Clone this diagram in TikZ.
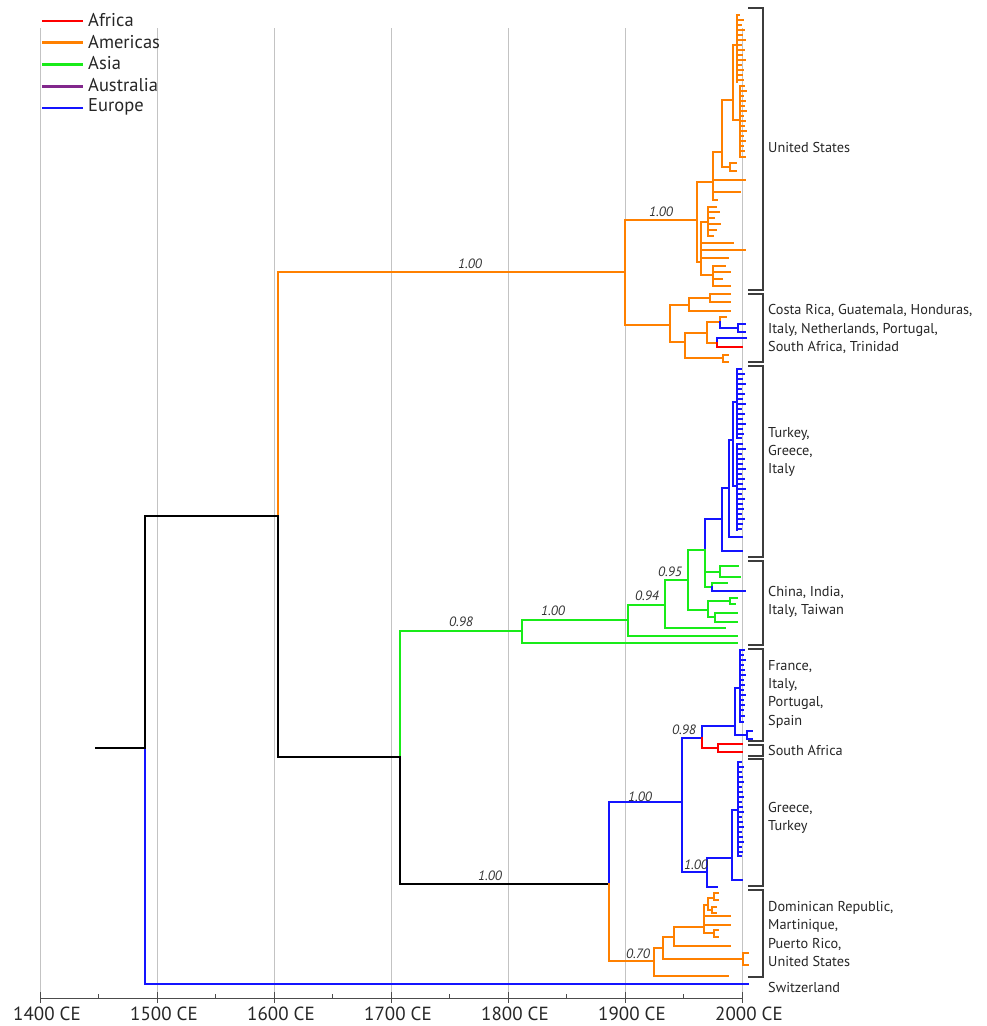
\documentclass[tikz,border=0pt]{standalone}
\usepackage{fontspec}
\setmainfont{PT Sans}
\usepackage{tikz}
\definecolor{afr}{RGB}{255,0,0}
\definecolor{ame}{RGB}{255,128,0}
\definecolor{asi}{RGB}{25,235,25}
\definecolor{aus}{RGB}{130,40,140}
\definecolor{eur}{RGB}{20,20,255}
\definecolor{grd}{RGB}{195,195,195}
\definecolor{brc}{RGB}{60,60,60}

\begin{document}
\begin{tikzpicture}[x=1pt,y=-1pt,
  br/.style={line width=2.8pt,line cap=rect},
  tp/.style={line width=2.2pt,line cap=rect},
  blk/.style={br,draw=black},
  af/.style={br,draw=afr},
  am/.style={br,draw=ame},
  as/.style={br,draw=asi},
  eu/.style={br,draw=eur},
  amt/.style={tp,draw=ame},
  eut/.style={tp,draw=eur},
  pp/.style={font=\fontsize{13.5}{15}\selectfont\itshape,text=black!80,inner sep=0pt},
  lab/.style={anchor=west,align=left,font=\fontsize{14.3}{18.3}\selectfont,text=black!85,inner sep=0pt},
  brk/.style={line width=1.8pt,draw=brc},
  yr/.style={font=\fontsize{19}{21}\selectfont,text=black!85,inner sep=0pt}]
  \useasboundingbox (0,0) rectangle (987,1026);

  \foreach \x in {40,157,274,391,508,625,742}
    \draw[grd,line width=1pt] (\x,28) -- (\x,998);
  \draw[black!70,line width=1pt] (40,998) -- (742,998);
  \foreach \x/\yy [count=\i] in {40/1400,157/1500,274/1600,391/1700,508/1800,625/1900,742/2000} {
    \draw[black!70,line width=1pt] (\x,992) -- (\x,1003);
    \node[yr] (yr\i) at (\x+7,1014) {\yy\ CE};
  }
  \foreach \x in {98.5,215.5,332.5,449.5,566.5,683.5}
    \draw[black!70,line width=1pt] (\x,994) -- (\x,998);

  \foreach \c/\t [count=\i] in {afr/Africa,ame/Americas,asi/Asia,aus/Australia,eur/Europe} {
    \draw[line width=2.8pt,\c] (42,{21+21.75*(\i-1)}) -- (83,{21+21.75*(\i-1)});
    \node[anchor=west,inner sep=0pt,font=\fontsize{18.5}{20}\selectfont,text=black!85] (lg\i) at (88,{20+21.75*(\i-1)}) {\t};
  }

  \coordinate (RT) at (96,748);
  \coordinate (R0) at (145,748);
  \coordinate (N1) at (278,516);
  \coordinate (SW) at (748,984);
  \coordinate (AM) at (625,272);
  \coordinate (N2) at (400,757);
  \coordinate (AS) at (522,631);
  \coordinate (N3) at (609,884);
  \coordinate (EU) at (682,802);
  \coordinate (DR) at (654,961);

  \coordinate (US) at (697,220);
  \coordinate (U1) at (713,182);
  \coordinate (U2) at (701,262);
  \coordinate (U3) at (708,222);
  \coordinate (U4) at (713,275);
  \coordinate (U5) at (722,152);
  \coordinate (U6) at (733,100);
  \coordinate (U7) at (730,167);
  \coordinate (U8) at (737,45);
  \coordinate (U9) at (740,120);
  \coordinate (CR) at (670,325);
  \coordinate (C1) at (689,305);
  \coordinate (C2) at (685,342);
  \coordinate (C3) at (710,298);
  \coordinate (C4) at (707,333);
  \coordinate (C5) at (723,358);
  \coordinate (C6) at (720,322);
  \coordinate (C7) at (717,343);
  \coordinate (C8) at (738,328);

  \coordinate (A2) at (628,620);
  \coordinate (A3) at (665,605);
  \coordinate (A4) at (688,580);
  \coordinate (A5) at (705,550);
  \coordinate (A6) at (708,610);
  \coordinate (A7) at (720,572);
  \coordinate (A8) at (712,587);
  \coordinate (A9) at (730,601);
  \coordinate (A10) at (715,617);
  \coordinate (TG) at (722,519);
  \coordinate (T2) at (729,488);
  \coordinate (T3) at (733,440);
  \coordinate (T4) at (737,402);
  \coordinate (T5) at (737,486);

  \coordinate (E1) at (702,738);
  \coordinate (E2) at (707,872);
  \coordinate (FR) at (735,726);
  \coordinate (F1) at (740,688);
  \coordinate (F2) at (747,735);
  \coordinate (SA) at (718,748);
  \coordinate (GT) at (732,858);
  \coordinate (G1) at (738,810);

  \coordinate (D1) at (663,948);
  \coordinate (D2) at (674,937);
  \coordinate (D3) at (743,959);
  \coordinate (D4) at (704,927);
  \coordinate (D5) at (708,905);
  \coordinate (D6) at (714,933);
  \coordinate (D7) at (714,898);
  \coordinate (D8) at (712,910);

  % backbone
  \draw[blk] (RT) -- (R0);
  \draw[eu] (R0) |- (SW);
  \draw[blk] (R0) |- (N1);
  \draw[am] (N1) |- (AM);
  \draw[blk] (N1) |- (N2);
  \draw[as] (N2) |- (AS);
  \draw[blk] (N2) |- (N3);
  \draw[eu] (N3) |- (EU);
  \draw[am] (N3) |- (DR);

  % Americas
  \draw[am] (AM) |- (US);
  \draw[am] (AM) |- (CR);
  \draw[am] (US) |- (U1);
  \draw[am] (US) |- (U2);
  \draw[am] (U1) |- (U5);
  \foreach \p in {(745,180),(740,192),(717,200)} \draw[am] (U1) |- \p;
  \draw[am] (U5) |- (U6);
  \draw[am] (U5) |- (U7);
  \foreach \p in {(736,163),(736,171)} \draw[amt] (U7) |- \p;
  \draw[am] (U6) |- (U8);
  \draw[am] (U6) |- (U9);
  \draw[amt] (737,15) -- (737,82);
  \foreach \y/\l in {15/2,20/6,25/4,30/7,35/5,40/8,45/4,50/7,55/5,60/8,65/4,70/6,75/5,80/6}
    \draw[amt] (737,\y) -- ++(\l,0);
  \draw[amt] (740,86) -- (740,157);
  \foreach \y/\l in {86/4,91/6,96/3,101/5,106/4,111/6,116/3,121/5,126/4,131/6,136/3,141/5,146/3,151/4,157/5}
    \draw[amt] (740,\y) -- ++(\l,0);
  \draw[am] (U2) |- (U3);
  \draw[am] (U2) |- (U4);
  \foreach \p in {(733,243),(745,250),(728,258)} \draw[am] (U2) |- \p;
  \foreach \p in {(716,207),(719,212),(714,218),(720,224),(716,230),(713,236)} \draw[amt] (U3) |- \p;
  \foreach \p in {(725,266),(730,272),(722,279),(730,286)} \draw[amt] (U4) |- \p;

  \draw[am] (CR) |- (C1);
  \draw[am] (CR) |- (C2);
  \draw[am] (C1) |- (C3);
  \draw[am] (C1) |- (730,311);
  \foreach \p in {(730,294),(730,302)} \draw[am] (C3) |- \p;
  \draw[am] (C2) |- (C4);
  \draw[am] (C2) |- (C5);
  \draw[am] (C4) |- (C6);
  \draw[am] (C4) |- (C7);
  \draw[am] (C6) |- (726,317);
  \draw[eu] (C6) |- (C8);
  \foreach \p in {(745,324),(745,332)} \draw[eut] (C8) |- \p;
  \draw[eu] (C7) |- (746,338);
  \draw[af] (C7) |- (742,347);
  \foreach \p in {(728,355),(728,362)} \draw[amt] (C5) |- \p;

  % Asia
  \draw[as] (AS) |- (A2);
  \draw[as] (AS) |- (737,643);
  \draw[as] (A2) |- (A3);
  \draw[as] (A2) |- (737,636);
  \draw[as] (A3) |- (A4);
  \draw[as] (A3) |- (725,628);
  \draw[as] (A4) |- (A5);
  \draw[as] (A4) |- (A6);
  \draw[eu] (A5) |- (TG);
  \draw[as] (A5) |- (A7);
  \draw[as] (A5) |- (A8);
  \foreach \p in {(738,566),(740,577)} \draw[as] (A7) |- \p;
  \draw[as] (A8) |- (727,583);
  \draw[eu] (A8) |- (745,591);
  \draw[as] (A6) |- (A9);
  \draw[as] (A6) |- (A10);
  \foreach \p in {(737,598),(735,604)} \draw[as] (A9) |- \p;
  \foreach \p in {(737,613),(737,622)} \draw[as] (A10) |- \p;

  \draw[eu] (TG) |- (T2);
  \draw[eu] (TG) |- (742,551);
  \draw[eu] (T2) |- (T3);
  \draw[eu] (T2) |- (742,537);
  \draw[eut] (T3) |- (T4);
  \draw[eut] (T3) |- (T5);
  \draw[eut] (737,369) -- (737,438);
  \foreach \y/\l in {369/4,374/7,379/5,384/8,389/4,394/7,399/5,404/8,409/4,414/7,419/5,424/8,429/5,434/6,438/4}
    \draw[eut] (737,\y) -- ++(\l,0);
  \draw[eut] (737,444) -- (737,530);
  \foreach \y/\l in {444/5,449/8,454/4,459/7,464/5,469/8,474/4,479/7,484/5,489/8,494/4,499/7,504/5,509/6,514/4,519/7,524/5,529/4}
    \draw[eut] (737,\y) -- ++(\l,0);

  % Europe
  \draw[eu] (EU) |- (E1);
  \draw[eu] (EU) |- (E2);
  \draw[eu] (E1) |- (FR);
  \draw[af] (E1) |- (SA);
  \foreach \p in {(742,744),(742,752)} \draw[af] (SA) |- \p;
  \draw[eut] (FR) |- (F1);
  \draw[eut] (FR) |- (F2);
  \foreach \p in {(752,731),(752,739)} \draw[eut] (F2) |- \p;
  \draw[eut] (740,650) -- (740,722);
  \foreach \y/\l in {650/4,655/3,660/5,665/3,670/4,675/5,680/3,685/4,690/3,695/5,700/3,705/4,710/3,716/4,722/3}
    \draw[eut] (740,\y) -- ++(\l,0);
  \draw[eu] (E2) |- (GT);
  \draw[eu] (E2) |- (717,887);
  \draw[eu] (GT) |- (G1);
  \draw[eu] (GT) |- (742,880);
  \draw[eut] (738,762) -- (738,856);
  \foreach \y/\l in {762/3,767/5,772/3,777/4,782/5,787/3,792/4,797/5,802/3,807/4,812/5,817/3,822/4,827/5,832/3,837/4,842/5,847/3,852/4,856/3}
    \draw[eut] (738,\y) -- ++(\l,0);

  % Caribbean
  \draw[am] (DR) |- (D1);
  \draw[am] (DR) |- (728,976);
  \draw[am] (D1) |- (D2);
  \draw[am] (D1) |- (D3);
  \foreach \p in {(748,953),(748,965)} \draw[amt] (D3) |- \p;
  \draw[am] (D2) |- (D4);
  \draw[am] (D2) |- (730,946);
  \draw[am] (D4) |- (D5);
  \draw[am] (D4) |- (D6);
  \foreach \p in {(730,916),(730,925)} \draw[am] (D4) |- \p;
  \draw[am] (D5) |- (D7);
  \draw[am] (D5) |- (D8);
  \foreach \p in {(718,893),(718,900)} \draw[amt] (D7) |- \p;
  \foreach \p in {(716,907),(716,913)} \draw[amt] (D8) |- \p;
  \foreach \p in {(718,930),(718,937)} \draw[amt] (D6) |- \p;

  % support values
  \node[pp] (pa) at (470,264) {1.00};
  \node[pp] (pb) at (661,212) {1.00};
  \node[pp] (pc) at (461,622) {0.98};
  \node[pp] (pd) at (553,611) {1.00};
  \node[pp] (pe) at (647,596) {0.94};
  \node[pp] (pf) at (670,572) {0.95};
  \node[pp] (pg) at (490,876) {1.00};
  \node[pp] (ph) at (640,797) {1.00};
  \node[pp] (pi) at (684,730) {0.98};
  \node[pp] (pj) at (696,865) {1.00};
  \node[pp] (pk) at (638,954) {0.70};

  % clade brackets
  \foreach \a/\b in {8/290,294/362,366/557,561/645,649/741,745/756,759/886,890/977}
    \draw[brk] (748,\a) -- (763,\a) -- (763,\b) -- (748,\b);

  \node[lab] (LA) at (768,147) {United States};
  \node[lab] (LB) at (768,329) {Costa Rica, Guatemala, Honduras,\\Italy, Netherlands, Portugal,\\South Africa, Trinidad};
  \node[lab] (LC) at (768,452) {Turkey,\\Greece,\\Italy};
  \node[lab] (LD) at (768,602) {China, India,\\Italy, Taiwan};
  \node[lab] (LE) at (768,694) {France,\\Italy,\\Portugal,\\Spain};
  \node[lab] (LF) at (768,750) {South Africa};
  \node[lab] (LG) at (768,818) {Greece,\\Turkey};
  \node[lab] (LH) at (768,934) {Dominican Republic,\\Martinique,\\Puerto Rico,\\United States};
  \node[lab] (LI) at (768,987) {Switzerland};
\end{tikzpicture}
\end{document}
